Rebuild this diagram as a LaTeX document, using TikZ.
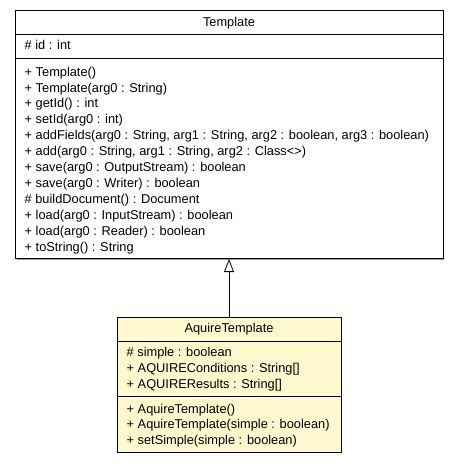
\documentclass[tikz,border=0pt]{standalone}
\usepackage{fontspec}
\setmainfont{Liberation Sans}
\usetikzlibrary{positioning,arrows.meta}

\definecolor{classyellow}{RGB}{255,248,206}
\definecolor{shadowgray}{RGB}{150,150,150}

\begin{document}
\begin{tikzpicture}[x=1pt, y=-1pt,
    % Box styles
    umlbox/.style={rectangle, draw=black, line width=1pt, fill=white, anchor=north west, inner sep=0pt},
    subbox/.style={umlbox, fill=classyellow},
    % Text styles
    classname/.style={font=\fontsize{12.8}{15}\selectfont, anchor=base, inner sep=0pt},
    members/.style={font=\fontsize{12.8}{15.9}\selectfont, align=left, anchor=north west, inner sep=0pt},
    % Arrow styles
    generalization/.style={-{Triangle[open, width=10pt, length=13pt]}, line width=0.8pt}
]

\useasboundingbox (0,0) rectangle (459,464);

% Drop shadows
\fill[shadowgray] (17,12) rectangle (444,259.5);
\fill[shadowgray] (118.5,318.5) rectangle (342.2,453.2);

% Superclass - Template
\node[umlbox, minimum width=427.5pt, minimum height=248pt] (template) at (15,10) {};
\draw[line width=1pt] (15,34.5) -- (442.5,34.5);
\draw[line width=1pt] (15,58) -- (442.5,58);
\node[classname] (templatename) at (229,26.7) {Template};
\node[members] (templateattrs) at (24.5,40.1) {\# id : int};
\node[members] (templateops) at (24.5,66.7) {%
+ Template()\\
+ Template(arg0 : String)\\
+ getId() : int\\
+ setId(arg0 : int)\\
+ addFields(arg0 : String, arg1 : String, arg2 : boolean, arg3 : boolean)\\
+ add(arg0 : String, arg1 : String, arg2 : Class<>)\\
+ save(arg0 : OutputStream) : boolean\\
+ save(arg0 : Writer) : boolean\\
\# buildDocument() : Document\\
+ load(arg0 : InputStream) : boolean\\
+ load(arg0 : Reader) : boolean\\
+ toString() : String};

% Subclass - AquireTemplate
\node[subbox, minimum width=224pt, minimum height=135pt] (aquire) at (116.7,316.7) {};
\draw[line width=1pt] (116.7,341) -- (340.7,341);
\draw[line width=1pt] (116.7,396) -- (340.7,396);
\node[classname] (aquirename) at (229,332.7) {AquireTemplate};
\node[members, font=\fontsize{12.8}{16}\selectfont] (aquireattrs) at (126.5,347.5) {%
\# simple : boolean\\
+ AQUIREConditions : String[]\\
+ AQUIREResults : String[]};
\node[members, font=\fontsize{12.8}{15.5}\selectfont] (aquireops) at (126.5,404) {%
+ AquireTemplate()\\
+ AquireTemplate(simple : boolean)\\
+ setSimple(simple : boolean)};

% Inheritance
\draw[generalization] (aquire.north -| templatename) -- (template.south -| templatename);

\end{tikzpicture}
\end{document}
